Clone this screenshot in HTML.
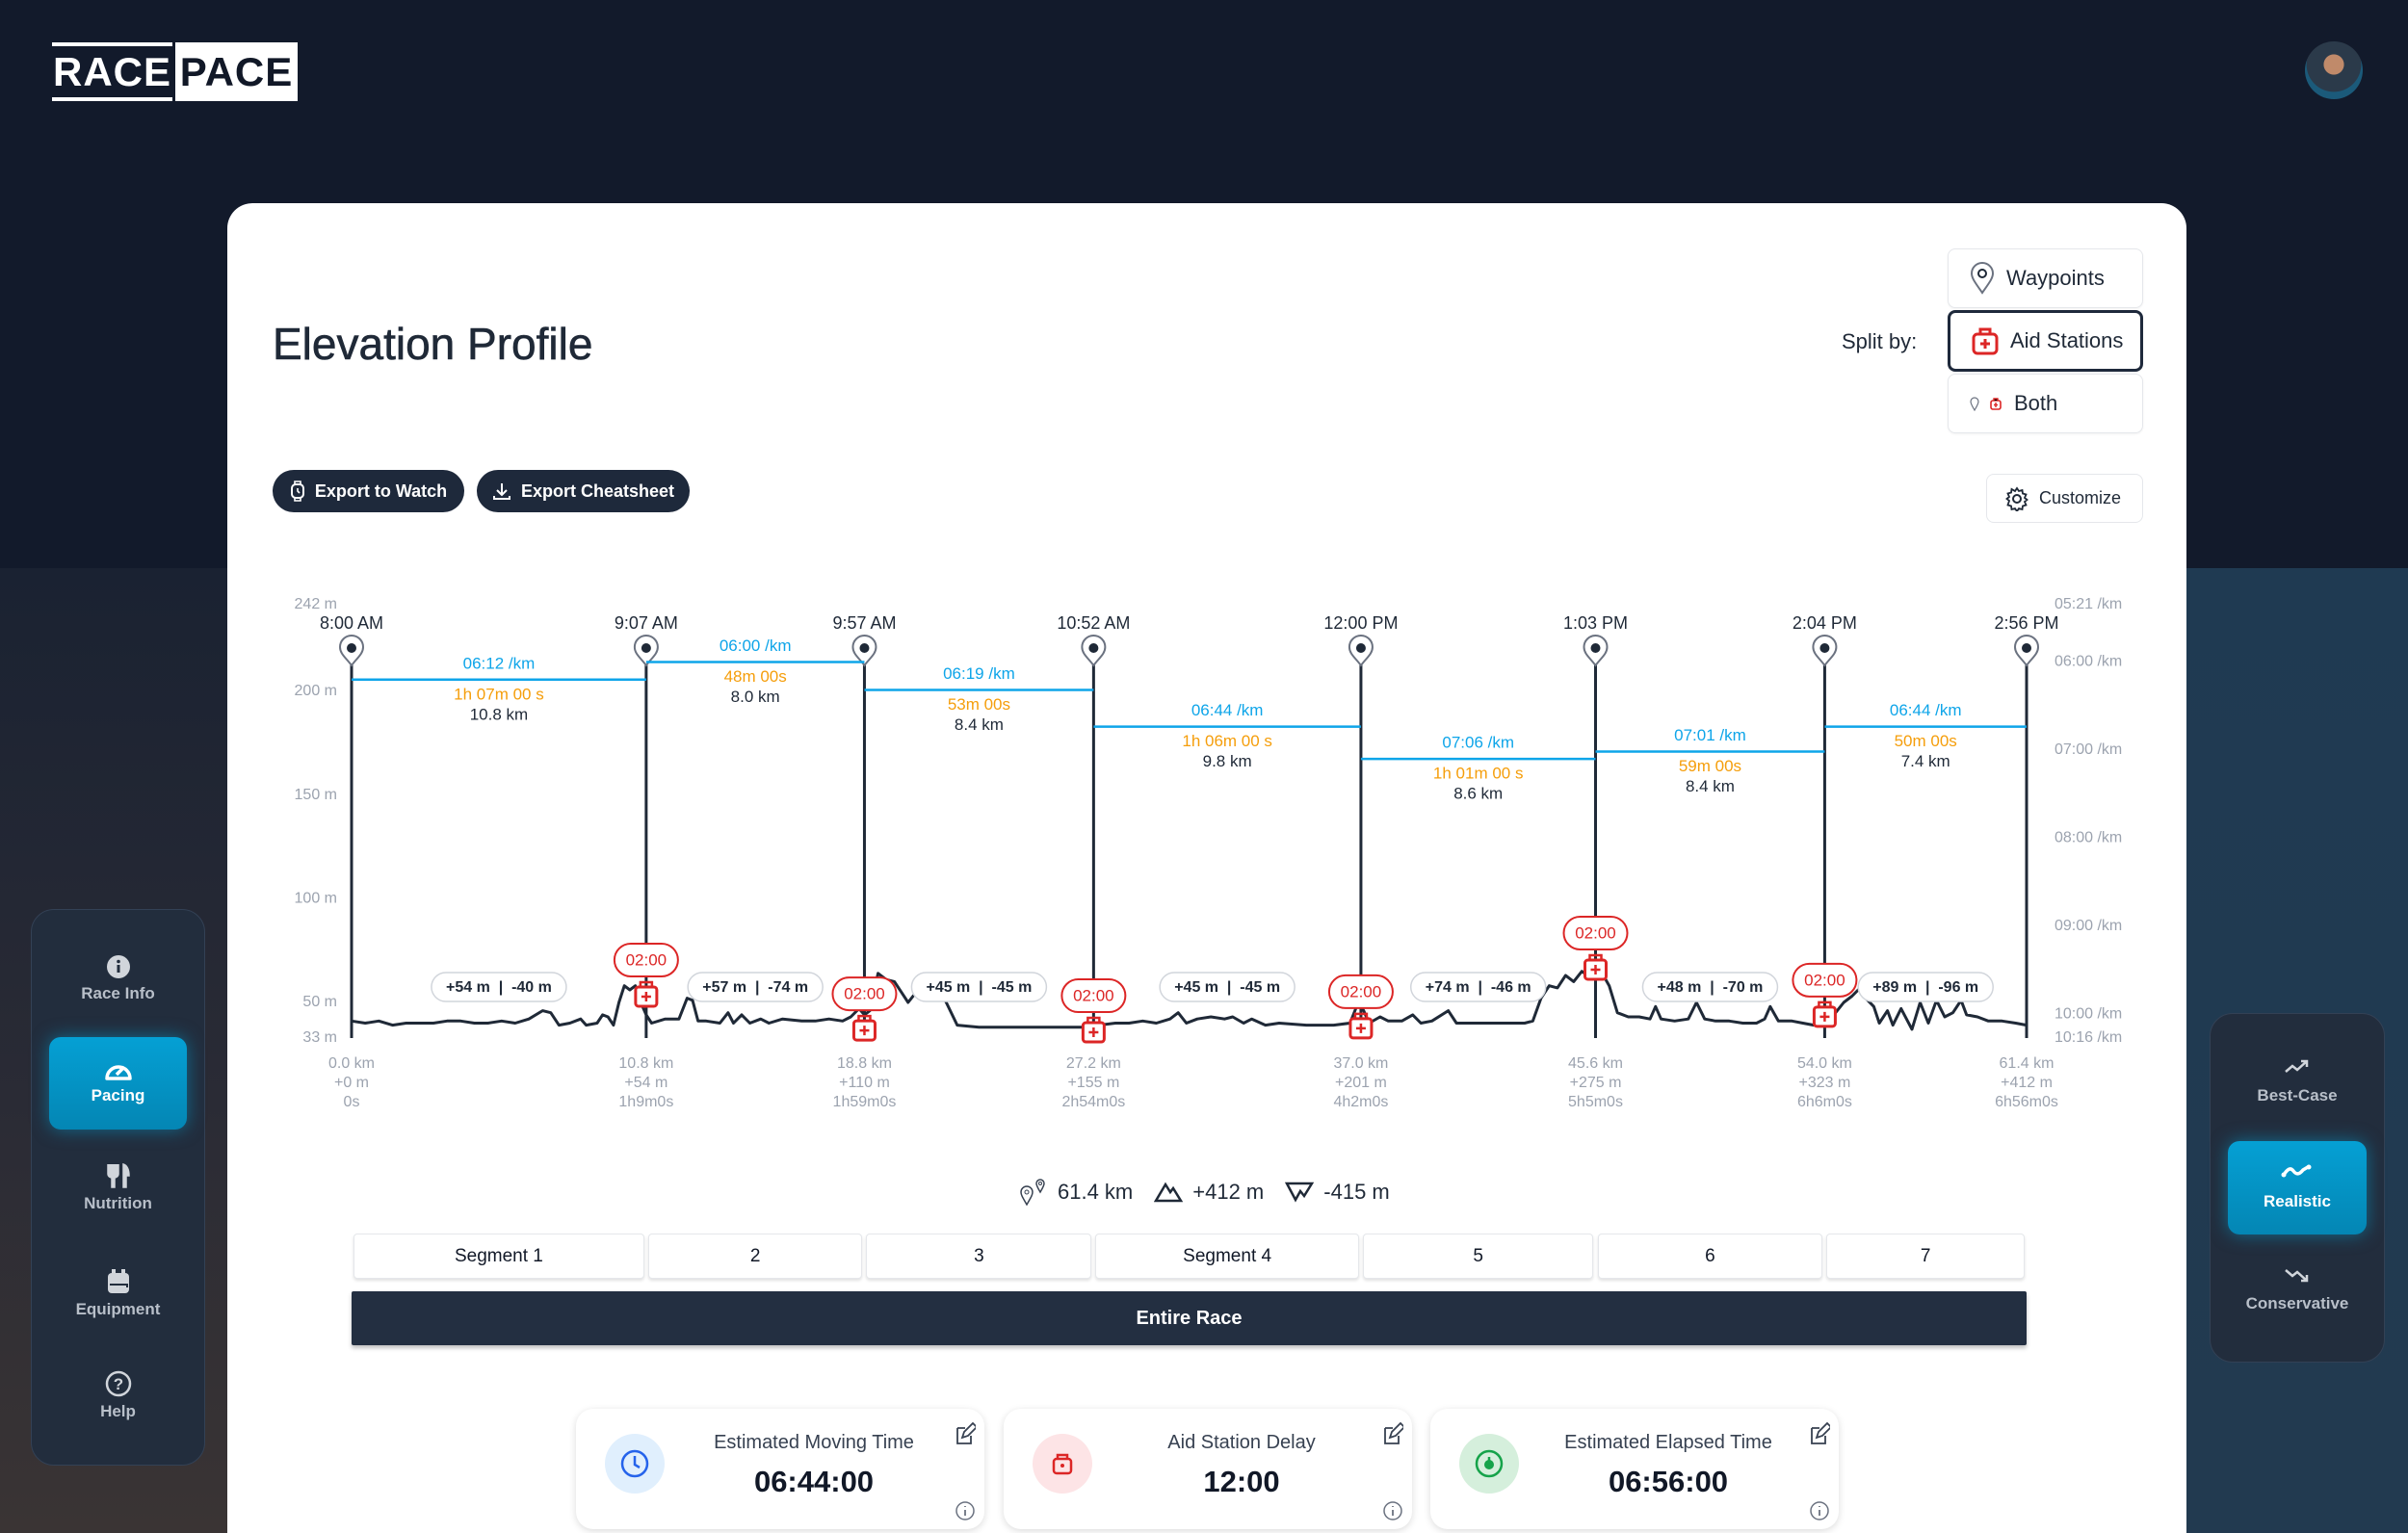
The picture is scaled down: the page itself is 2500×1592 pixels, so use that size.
<!DOCTYPE html>
<html><head><meta charset="utf-8">
<style>
*{box-sizing:border-box;margin:0;padding:0}
html{width:2500px;height:1592px;overflow:hidden}
body{width:2500px;height:1592px;overflow:hidden;background:#121a2b;font-family:"Liberation Sans",sans-serif;position:relative}
.abs{position:absolute}
.lower-left{left:0;top:590px;width:240px;height:1002px;background:linear-gradient(180deg,#1a2232 0%,#2a2b35 55%,#3a3434 100%)}
.lower-right{left:2260px;top:590px;width:240px;height:1002px;background:linear-gradient(180deg,#1f3a52 0%,#223a50 100%)}
.card{left:236px;top:211px;width:2034px;height:1381px;background:#fff;border-radius:26px 26px 0 0}
.logo-race{left:54px;top:44px;width:125px;height:61px;border-top:4px solid #fff;border-bottom:4px solid #fff;color:#fff;font-weight:bold;font-size:42px;line-height:53px;text-align:center;letter-spacing:1px}
.logo-pace{left:182px;top:44px;width:127px;height:61px;background:#fff;color:#111827;font-weight:bold;font-size:42px;line-height:61px;text-align:center;letter-spacing:1px}
.avatar{left:2393px;top:43px;width:60px;height:60px;border-radius:50%;background:radial-gradient(circle at 50% 40%,#c08a6a 0 22%,#2b3a4a 23% 60%,#1b5a7a 61%)}
.title{left:283px;top:330px;font-size:46px;color:#1f2937;-webkit-text-stroke:0.6px #1f2937}
.btn-dark{top:488px;height:44px;background:#1e293b;color:#fff;border-radius:22px;font-size:18px;font-weight:bold;display:flex;align-items:center;justify-content:center;gap:10px}
.split-label{left:1912px;top:342px;font-size:22px;color:#1f2937}
.opt{left:2022px;width:203px;height:62px;border:1px solid #e5e7eb;border-radius:8px;background:#fff;display:flex;align-items:center;gap:12px;padding-left:22px;font-size:22px;color:#1f2937;box-shadow:0 1px 2px rgba(0,0,0,.05)}
.opt.sel{border:3px solid #1e293b}
.customize{left:2062px;top:492px;width:163px;height:51px;border:1px solid #e5e7eb;border-radius:8px;display:flex;align-items:center;gap:10px;padding-left:18px;font-size:18px;color:#1f2937}
.side{background:#222d3d;border:1px solid #334155;border-radius:24px}
.nav-item{position:absolute;left:0;width:100%;text-align:center;color:#b8bfc9;font-size:17px;font-weight:bold}
.nav-btn{position:absolute;background:linear-gradient(180deg,#05a0d4,#0486b4);border-radius:12px;box-shadow:0 0 18px rgba(6,160,212,.55)}
.seg{top:1281px;height:47px;background:#fff;border:1px solid #e5e7eb;border-radius:4px;box-shadow:0 2px 3px rgba(0,0,0,.12);display:flex;align-items:center;justify-content:center;font-size:19px;color:#111827}
.entire{left:365px;top:1341px;width:1739px;height:56px;background:#232f41;color:#fff;font-size:20px;font-weight:bold;display:flex;align-items:center;justify-content:center;box-shadow:0 3px 4px rgba(0,0,0,.25);border-radius:2px}
.stat{top:1463px;width:424px;height:125px;background:#fff;border-radius:18px;box-shadow:0 2px 8px rgba(0,0,0,.14)}
.stat .ic{position:absolute;left:30px;top:26px;width:62px;height:62px;border-radius:50%}
.stat .lab{position:absolute;left:110px;right:40px;top:24px;text-align:center;font-size:20px;color:#374151}
.stat .val{position:absolute;left:110px;right:40px;top:58px;text-align:center;font-size:31px;font-weight:bold;color:#111827}
</style></head>
<body>
<div class="abs lower-left"></div>
<div class="abs lower-right"></div>

<div class="abs logo-race">RACE</div>
<div class="abs logo-pace">PACE</div>
<div class="abs avatar"></div>

<div class="abs card"></div>
<div class="abs title">Elevation Profile</div>

<div class="abs btn-dark" style="left:283px;width:199px">
<svg width="16" height="22" viewBox="0 0 16 22"><rect x="2" y="4" width="12" height="14" rx="4" fill="none" stroke="#fff" stroke-width="2"/><path d="M5 4V1h6v3M5 18v3h6v-3M8 8v3l2 2" fill="none" stroke="#fff" stroke-width="1.6"/></svg>Export to Watch</div>
<div class="abs btn-dark" style="left:495px;width:221px">
<svg width="20" height="20" viewBox="0 0 20 20"><path d="M10 2v11M5 9l5 5 5-5M2 15v3h16v-3" fill="none" stroke="#fff" stroke-width="2"/></svg>Export Cheatsheet</div>

<div class="abs split-label">Split by:</div>
<div class="abs opt" style="top:258px">
<svg width="26" height="34" viewBox="0 0 26 34"><path d="M13 32C6 22 2 17 2 12a11 11 0 0 1 22 0c0 5-4 10-11 20z" fill="none" stroke="#6b7280" stroke-width="2"/><circle cx="13" cy="12" r="4" fill="none" stroke="#1f2937" stroke-width="2"/></svg>Waypoints</div>
<div class="abs opt sel" style="top:322px;height:64px">
<svg width="28" height="30" viewBox="0 0 28 30"><rect x="2" y="8" width="24" height="20" rx="4" fill="none" stroke="#dc2626" stroke-width="3"/><path d="M9 8V3h10v5M14 13v10M9 18h10" fill="none" stroke="#dc2626" stroke-width="3"/></svg>Aid Stations</div>
<div class="abs opt" style="top:388px">
<svg width="34" height="16" viewBox="0 0 34 16"><path d="M5 15C2 10 1 8 1 6a4 4 0 0 1 8 0c0 2-1 4-4 9z" fill="none" stroke="#6b7280" stroke-width="1.2"/><rect x="22" y="5" width="10" height="9" rx="2" fill="none" stroke="#dc2626" stroke-width="1.6"/><path d="M25 5V3h4v2M27 7v5M25 9.5h4" stroke="#dc2626" stroke-width="1.4"/></svg>Both</div>
<div class="abs customize">
<svg width="26" height="26" viewBox="0 0 26 26"><circle cx="13" cy="13" r="4" fill="none" stroke="#1f2937" stroke-width="2"/><path d="M13 2l2 3 3.5-1 .5 3.5 3.5 1-1.5 3.5 2.5 2-2.5 2 1.5 3.5-3.5 1-.5 3.5-3.5-1-2 3-2-3-3.5 1-.5-3.5-3.5-1L5 15l-2.5-2L5 11 3.5 7.5l3.5-1L7.5 3 11 5z" fill="none" stroke="#1f2937" stroke-width="1.8"/></svg>Customize</div>

<!-- left sidebar -->
<div class="abs side" style="left:32px;top:944px;width:181px;height:578px">
  <div class="nav-item" style="top:46px"><svg width="26" height="26"><circle cx="13" cy="13" r="12" fill="#d1d5db"/><rect x="11.5" y="11" width="3" height="8" fill="#222d3d"/><circle cx="13" cy="7.5" r="1.8" fill="#222d3d"/></svg><div>Race Info</div></div>
  <div class="nav-btn" style="left:18px;top:132px;width:143px;height:96px"></div>
  <div class="nav-item" style="top:154px;color:#fff"><svg width="32" height="24" viewBox="0 0 32 24"><path d="M4 21a12 12 0 1 1 24 0z" fill="none" stroke="#fff" stroke-width="3.5" stroke-linejoin="round"/><path d="M14 17l8-8" stroke="#fff" stroke-width="3.5"/></svg><div>Pacing</div></div>
  <div class="nav-item" style="top:262px"><svg width="28" height="28" viewBox="0 0 28 28"><path d="M3 2v10c0 3 3 4 4 4v10h3V16c1 0 4-1 4-4V2M7 2v9M10 2v9M19 26V2c4 1 6 6 6 12h-3v12z" fill="#d1d5db" stroke="#d1d5db" stroke-width="1.5"/></svg><div>Nutrition</div></div>
  <div class="nav-item" style="top:372px"><svg width="26" height="28" viewBox="0 0 26 28"><rect x="2" y="5" width="22" height="21" rx="4" fill="#d1d5db"/><rect x="6" y="1" width="4" height="6" fill="#d1d5db"/><rect x="16" y="1" width="4" height="6" fill="#d1d5db"/><path d="M4 17h18v3" stroke="#222d3d" stroke-width="2" fill="none"/></svg><div>Equipment</div></div>
  <div class="nav-item" style="top:478px"><svg width="28" height="28"><circle cx="14" cy="14" r="12" fill="none" stroke="#d1d5db" stroke-width="2.5"/><text x="14" y="20" text-anchor="middle" font-size="17" font-weight="bold" fill="#d1d5db" font-family="Liberation Sans">?</text></svg><div>Help</div></div>
</div>

<!-- right sidebar -->
<div class="abs side" style="left:2294px;top:1052px;width:182px;height:363px">
  <div class="nav-item" style="top:46px"><svg width="28" height="18" viewBox="0 0 28 18"><path d="M2 14l7-6 5 4 10-9M18 3h6v6" fill="none" stroke="#d1d5db" stroke-width="2.5"/></svg><div style="margin-top:6px">Best-Case</div></div>
  <div class="nav-btn" style="left:18px;top:132px;width:144px;height:97px"></div>
  <div class="nav-item" style="top:152px;color:#fff"><svg width="34" height="20" viewBox="0 0 34 20"><path d="M3 15c4-6 7-8 10-4s6 4 10-1l5-3" fill="none" stroke="#fff" stroke-width="3.5" stroke-linecap="round"/><circle cx="3" cy="15" r="2.5" fill="#fff"/><circle cx="29" cy="7" r="2.5" fill="#fff"/></svg><div style="margin-top:8px">Realistic</div></div>
  <div class="nav-item" style="top:262px"><svg width="28" height="18" viewBox="0 0 28 18"><path d="M2 4l7 6 5-4 10 9M18 15h6V9" fill="none" stroke="#d1d5db" stroke-width="2.5"/></svg><div style="margin-top:6px">Conservative</div></div>
</div>

<!-- chart -->
<svg class="abs" id="chart" style="left:0;top:0" width="2500" height="1592"></svg>

<!-- summary line -->
<div class="abs" style="left:1058px;top:1224px;display:flex;align-items:center;gap:10px;font-size:22px;color:#1f2937">
<svg width="30" height="28" viewBox="0 0 30 28"><path d="M8 27C4 20 2 17 2 14a6 6 0 0 1 12 0c0 3-2 6-6 13zM22 14c-3-5-4-7-4-9a4 4 0 0 1 8 0c0 2-1 4-4 9z" fill="none" stroke="#374151" stroke-width="1.5"/><circle cx="8" cy="14" r="2" fill="none" stroke="#374151"/><circle cx="22" cy="5" r="1.5" fill="none" stroke="#374151"/></svg>
<span>61.4 km</span>
<svg width="30" height="24" viewBox="0 0 30 24" style="margin-left:12px"><path d="M2 21L12 4l5 8 3-4 8 13z" fill="none" stroke="#1f2937" stroke-width="2.5"/></svg>
<span>+412 m</span>
<svg width="30" height="24" viewBox="0 0 30 24" style="margin-left:12px"><path d="M2 3l9 17 5-9 4 5 8-13z" fill="none" stroke="#1f2937" stroke-width="2.5"/></svg>
<span>-415 m</span>
</div>

<div id="segs"></div>
<div class="abs entire">Entire Race</div>

<div class="abs stat" style="left:598px">
  <div class="ic" style="background:#e0effd"><svg width="62" height="62"><circle cx="31" cy="31" r="13" fill="none" stroke="#2563eb" stroke-width="2.5"/><path d="M31 23v9l5 3" fill="none" stroke="#2563eb" stroke-width="2.5"/></svg></div>
  <div class="lab">Estimated Moving Time</div><div class="val">06:44:00</div>
  <svg class="abs" style="left:393px;top:14px" width="22" height="24"><path d="M3 6h8M3 6v16h14v-8M8 16l2-6 9-9 4 4-9 9z" fill="none" stroke="#374151" stroke-width="1.8"/></svg>
  <svg class="abs" style="left:393px;top:95px" width="22" height="22"><circle cx="11" cy="11" r="9" fill="none" stroke="#6b7280" stroke-width="1.5"/><path d="M11 10v6M11 6v1" stroke="#6b7280" stroke-width="1.8"/></svg>
</div>
<div class="abs stat" style="left:1042px">
  <div class="ic" style="background:#fde4e6"><svg width="62" height="62"><rect x="22" y="26" width="18" height="15" rx="3" fill="none" stroke="#dc2626" stroke-width="2.5"/><path d="M26 26v-4h10v4" fill="none" stroke="#dc2626" stroke-width="2.5"/><circle cx="31" cy="33" r="2" fill="#dc2626"/></svg></div>
  <div class="lab">Aid Station Delay</div><div class="val">12:00</div>
  <svg class="abs" style="left:393px;top:14px" width="22" height="24"><path d="M3 6h8M3 6v16h14v-8M8 16l2-6 9-9 4 4-9 9z" fill="none" stroke="#374151" stroke-width="1.8"/></svg>
  <svg class="abs" style="left:393px;top:95px" width="22" height="22"><circle cx="11" cy="11" r="9" fill="none" stroke="#6b7280" stroke-width="1.5"/><path d="M11 10v6M11 6v1" stroke="#6b7280" stroke-width="1.8"/></svg>
</div>
<div class="abs stat" style="left:1485px">
  <div class="ic" style="background:#d5efdc"><svg width="62" height="62"><circle cx="31" cy="31" r="13" fill="none" stroke="#16a34a" stroke-width="2.5"/><circle cx="31" cy="32" r="5" fill="#16a34a"/><path d="M31 24v5" stroke="#16a34a" stroke-width="2.5"/></svg></div>
  <div class="lab">Estimated Elapsed Time</div><div class="val">06:56:00</div>
  <svg class="abs" style="left:393px;top:14px" width="22" height="24"><path d="M3 6h8M3 6v16h14v-8M8 16l2-6 9-9 4 4-9 9z" fill="none" stroke="#374151" stroke-width="1.8"/></svg>
  <svg class="abs" style="left:393px;top:95px" width="22" height="22"><circle cx="11" cy="11" r="9" fill="none" stroke="#6b7280" stroke-width="1.5"/><path d="M11 10v6M11 6v1" stroke="#6b7280" stroke-width="1.8"/></svg>
</div>

<script>
const wpKm = [0, 10.8, 18.8, 27.2, 37.0, 45.6, 54.0, 61.4];
const wpTime = ["8:00 AM","9:07 AM","9:57 AM","10:52 AM","12:00 PM","1:03 PM","2:04 PM","2:56 PM"];
const wpGainLabel = ["+0 m","+54 m","+110 m","+155 m","+201 m","+275 m","+323 m","+412 m"];
const wpElapsed = ["0s","1h9m0s","1h59m0s","2h54m0s","4h2m0s","5h5m0s","6h6m0s","6h56m0s"];
const segNames = ["Segment 1","2","3","Segment 4","5","6","7"];
const segPaceSec = [372, 360, 379, 404, 426, 421, 404];
const segPaceLabel = ["06:12 /km","06:00 /km","06:19 /km","06:44 /km","07:06 /km","07:01 /km","06:44 /km"];
const segTime = ["1h 07m 00 s","48m 00s","53m 00s","1h 06m 00 s","1h 01m 00 s","59m 00s","50m 00s"];
const segDist = ["10.8 km","8.0 km","8.4 km","9.8 km","8.6 km","8.4 km","7.4 km"];
const segGain = [54, 57, 45, 45, 74, 48, 89];
const segLoss = [40, 74, 45, 45, 46, 70, 96];
const aidKm = [10.8, 18.8, 27.2, 37.0, 45.6, 54.0];
const aidElev = [53.7, 37.4, 36.5, 38.4, 66.7, 44];
const aidDelay = ["02:00","02:00","02:00","02:00","02:00","02:00"];
const elevTicks = [242, 200, 150, 100, 50, 33];
const paceTicks = [321, 360, 420, 480, 540, 600, 616];
const paceTickLabels = ["05:21 /km","06:00 /km","07:00 /km","08:00 /km","09:00 /km","10:00 /km","10:16 /km"];
const profKm = [0,0.5,1,1.5,2,3,3.5,4,4.5,5,5.5,6,6.5,7,7.3,7.6,8,8.4,8.6,9,9.2,9.4,9.6,9.8,10,10.2,10.4,10.6,10.8,11,11.5,12,12.3,12.5,12.7,13,13.5,13.8,14,14.3,14.6,15,15.3,15.8,16.5,17,17.5,18,18.3,18.6,18.8,19,19.3,19.6,19.9,20.2,20.4,20.7,21.2,21.5,21.8,22.2,23,24,25,26,27,27.4,28,28.5,29,29.5,30,30.3,30.6,31,31.5,32,32.3,32.7,33,33.5,34,35,36,36.6,36.9,37.1,37.3,37.7,38,38.5,38.9,39.2,39.6,40.2,40.5,41,42,43,43.3,43.6,43.9,44.2,44.5,44.8,45.1,45.4,45.8,46.1,46.4,46.8,47.2,47.6,47.8,48,48.5,49,49.3,49.6,50,50.5,51,51.5,51.8,52,52.3,52.8,53.2,53.6,54,54.4,54.7,55,55.3,55.5,55.8,56,56.3,56.5,56.8,57.2,57.5,57.8,58.1,58.4,58.7,59,59.2,59.6,60,60.5,61,61.4];
const profElev = [41,40,41,39,40,40,41,41,40,40,41,40,42,46,45,39,40,42,39,40,44,43,39,50,58,56,58,50,44,40,42,42,52,51,41,41,40,45,40,44,40,42,40,42,41,41,42,41,43,47,44,46,64,61,60,54,50,55,55,57,50,39,38,38,38,38,38,39,40,40,41,40,42,45,40,42,43,42,43,40,42,39,40,39,39,40,50,46,40,43,41,41,44,40,41,46,40,40,40,40,41,52,58,57,63,60,65,62,65,58,45,43,43,42,48,42,41,42,50,42,41,41,40,40,42,48,41,41,40,39,40,45,50,53,57,52,48,40,46,39,47,37,50,40,51,43,45,51,44,43,41,41,40,39];

const NS = "http://www.w3.org/2000/svg";
const svg = document.getElementById("chart");
const X0 = 365, X1 = 2104, KMAX = 61.4;
const xKm = k => X0 + (X1 - X0) * k / KMAX;
const yElev = m => 718 + (200 - m) * 2.153;
const yPace = s => 628 + (s - 321) * 1.525;
function el(tag, attrs, parent) {
  const e = document.createElementNS(NS, tag);
  for (const k in attrs) e.setAttribute(k, attrs[k]);
  (parent || svg).appendChild(e);
  return e;
}
function txt(x, y, s, attrs) {
  const t = el("text", Object.assign({x: x, y: y, "font-family": "Liberation Sans, sans-serif", "dominant-baseline": "middle"}, attrs));
  t.textContent = s;
  return t;
}
elevTicks.forEach(m => {
  const t = txt(350, yElev(m), m + " m", {"text-anchor": "end", "font-size": 16, fill: "#9ca3af"});
  
  
});
paceTicks.forEach((s, i) => {
  const t = txt(2133, yPace(s), paceTickLabels[i], {"font-size": 16, fill: "#9ca3af"});
  
  
});
let d = "";
profKm.forEach((k, i) => { d += (i ? "L" : "M") + xKm(k).toFixed(1) + " " + yElev(profElev[i]).toFixed(1); });
const prof = el("path", {d: d, fill: "none", stroke: "#1f2937", "stroke-width": 3, "stroke-linejoin": "round"});


wpKm.forEach((k, i) => {
  const x = xKm(k);
  const ln = el("line", {x1: x, x2: x, y1: 690, y2: 1078, stroke: "#1f2937", "stroke-width": 3});
  
  
  const pin = el("path", {d: `M${x} 691 C${x-6} 683 ${x-12} 679 ${x-12} 672 A12 12 0 0 1 ${x+12} 672 C${x+12} 679 ${x+6} 683 ${x} 691Z`, fill: "#fff", stroke: "#6b7280", "stroke-width": 2});
  
  
  el("circle", {cx: x, cy: 673, r: 5, fill: "#1f2937"});
  const tl = txt(x, 648, wpTime[i], {"text-anchor": "middle", "font-size": 18, fill: "#1f2937"});
  
  
  const a = txt(x, 1105, wpKm[i].toFixed(1) + " km", {"text-anchor": "middle", "font-size": 16, fill: "#9ca3af"});
  
  
  const b = txt(x, 1125, wpGainLabel[i], {"text-anchor": "middle", "font-size": 16, fill: "#9ca3af"});
  
  
  const c = txt(x, 1145, wpElapsed[i], {"text-anchor": "middle", "font-size": 16, fill: "#9ca3af"});
  
  
});
const segHost = document.getElementById("segs");
segPaceSec.forEach((s, i) => {
  const xa = xKm(wpKm[i]), xb = xKm(wpKm[i + 1]), xm = (xa + xb) / 2, y = yPace(s);
  const pl = el("line", {x1: xa, x2: xb, y1: y, y2: y, stroke: "#0ea5e9", "stroke-width": 2.5});
  
  
  const p1 = txt(xm, y - 16, segPaceLabel[i], {"text-anchor": "middle", "font-size": 17, fill: "#0ea5e9"});
  
  
  const p2 = txt(xm, y + 16, segTime[i], {"text-anchor": "middle", "font-size": 17, fill: "#f59e0b"});
  
  
  const p3 = txt(xm, y + 37, segDist[i], {"text-anchor": "middle", "font-size": 17, fill: "#1f2937"});
  
  
  const pill = el("rect", {x: xm - 70, y: 1010, width: 140, height: 30, rx: 15, fill: "#fff", stroke: "#d1d5db", "stroke-width": 1.5});
  
  
  const g = txt(xm, 1026, "+" + segGain[i] + " m  |  -" + segLoss[i] + " m", {"text-anchor": "middle", "font-size": 16, "font-weight": "bold", fill: "#1f2937"});
  g.style.whiteSpace = "pre";
  
  
  const btn = document.createElement("div");
  btn.className = "abs seg";
  btn.style.left = (xa + 2) + "px";
  btn.style.width = (xb - xa - 4) + "px";
  btn.textContent = segNames[i];
  
  
  segHost.appendChild(btn);
});
aidKm.forEach((k, i) => {
  const x = xKm(k), yi = yElev(aidElev[i]);
  const bag = el("g", {});
  
  
  el("rect", {x: x - 11, y: yi - 8, width: 22, height: 20, rx: 3, fill: "#fff", stroke: "#dc2626", "stroke-width": 3}, bag);
  el("path", {d: `M${x-6} ${yi-8}V${yi-13}h12v5M${x} ${yi-3}v10M${x-5} ${yi+2}h10`, fill: "none", stroke: "#dc2626", "stroke-width": 2.5}, bag);
  const by = yi - 36;
  const bub = el("rect", {x: x - 33, y: by - 17, width: 66, height: 34, rx: 17, fill: "#fff", stroke: "#dc2626", "stroke-width": 2});
  
  
  const bt = txt(x, by + 1, aidDelay[i], {"text-anchor": "middle", "font-size": 17, fill: "#dc2626"});
  
  
});
</script>
</body></html>
